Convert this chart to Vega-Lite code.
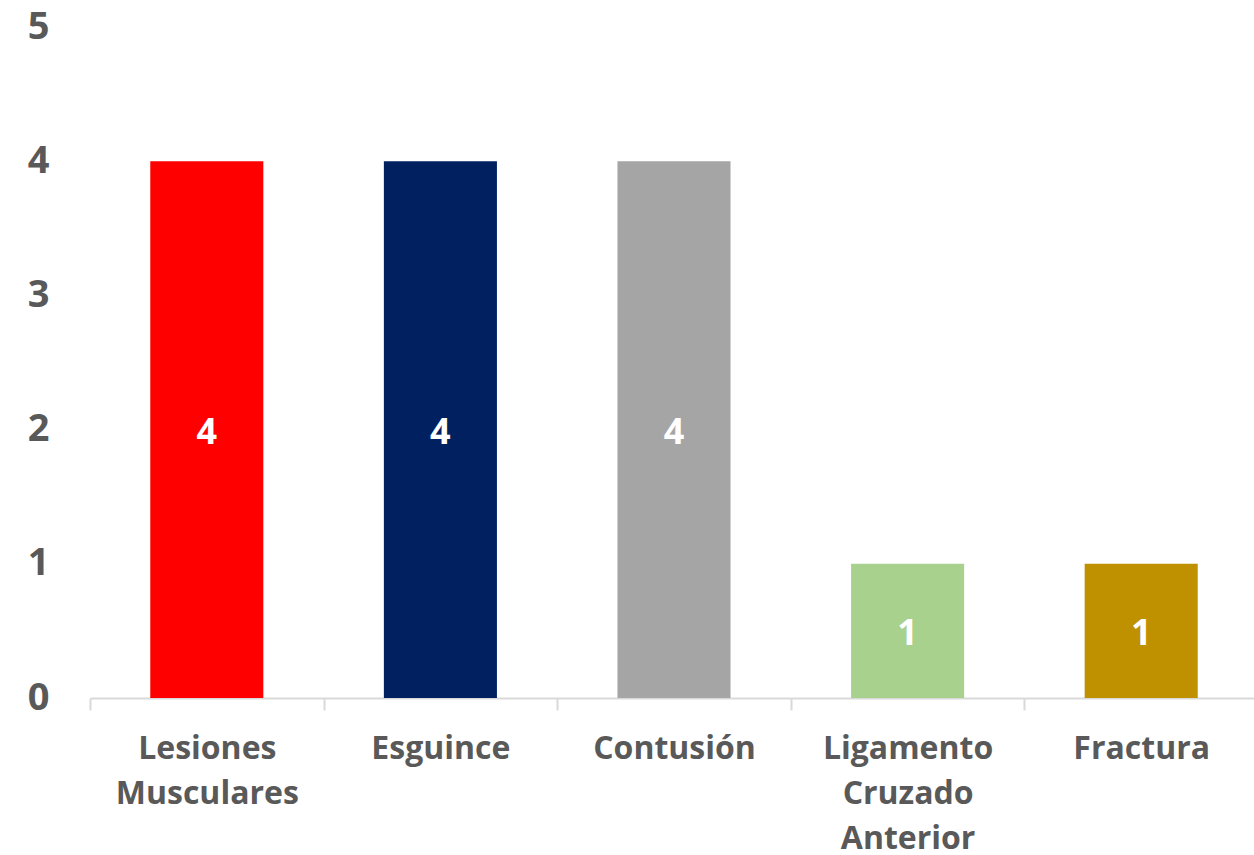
{
  "$schema": "https://vega.github.io/schema/vega-lite/v6.json",
  "autosize": "none",
  "width": 1168,
  "height": 671,
  "padding": {"left": 90, "top": 27, "right": 0, "bottom": 157},
  "background": "white",
  "config": {"view": {"stroke": null}, "font": "Open Sans"},
  "data": {"values": [
    {"categoria": "Lesiones Musculares", "casos": 4},
    {"categoria": "Esguince", "casos": 4},
    {"categoria": "Contusión", "casos": 4},
    {"categoria": "Ligamento Cruzado Anterior", "casos": 1},
    {"categoria": "Fractura", "casos": 1}
  ]},
  "encoding": {
    "x": {"field": "categoria", "type": "nominal", "sort": null,
      "scale": {"paddingInner": 0, "paddingOuter": 0},
      "axis": {"title": null, "labelAngle": 0, "labelFontSize": 32, "labelFont": "Open Sans", "labelFontWeight": "bold",
        "labelColor": "#595959", "labelPadding": 23, "labelLineHeight": 45, "labelLimit": 400, "labelOverlap": false,
        "labelExpr": "split(datum.label, ' ')", "domainColor": "#d9d9d9", "domainWidth": 2,
        "tickColor": "#d9d9d9", "tickWidth": 2, "tickSize": 12, "tickBand": "extent"}}
  },
  "layer": [
    {"mark": {"type": "bar", "width": {"band": 0.484}},
     "encoding": {
       "y": {"field": "casos", "type": "quantitative", "scale": {"domain": [0, 5], "nice": false},
         "axis": {"title": null, "domain": false, "ticks": false, "grid": false, "values": [0,1,2,3,4,5], "labelOverlap": false,
           "labelFontSize": 38, "labelFont": "Open Sans", "labelFontWeight": "bold", "labelColor": "#595959", "labelPadding": 41}},
       "color": {"field": "categoria", "type": "nominal", "legend": null,
       "scale": {"domain": ["Lesiones Musculares", "Esguince", "Contusión", "Ligamento Cruzado Anterior", "Fractura"],
                 "range": ["#FF0000", "#002060", "#A5A5A5", "#A9D18E", "#BF9000"]}}}},
    {"mark": {"type": "text", "color": "white", "font": "Open Sans", "fontWeight": "bold", "fontSize": 36, "baseline": "middle", "dy": 3},
     "encoding": {
       "y": {"field": "casos", "type": "quantitative", "scale": {"domain": [0, 10], "nice": false}, "axis": null},
       "text": {"field": "casos", "type": "quantitative"}}}
  ],
  "resolve": {"scale": {"y": "independent"}}
}
